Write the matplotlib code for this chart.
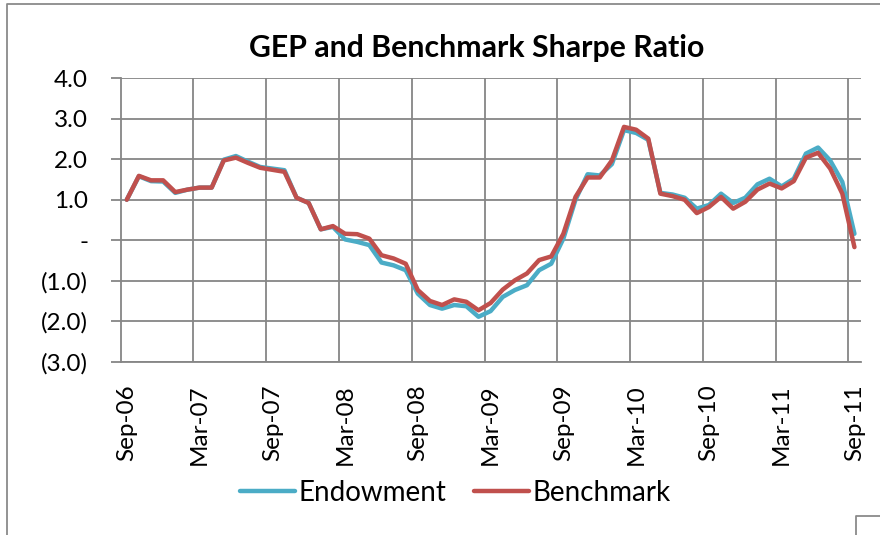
import matplotlib
matplotlib.use("Agg")
import matplotlib.pyplot as plt
from matplotlib.lines import Line2D
from matplotlib.ticker import FuncFormatter, FixedLocator
import pandas as pd

# Monthly Sharpe ratios, Sep-2006 .. Sep-2011
months = pd.date_range("2006-09-01", periods=61, freq="MS").strftime("%b-%y").tolist()

endowment = [1.00, 1.58, 1.46, 1.45, 1.17, 1.25, 1.30, 1.30, 1.99, 2.08,
             1.94, 1.81, 1.77, 1.73, 1.05, 0.92, 0.27, 0.33, 0.02, -0.04,
             -0.12, -0.55, -0.62, -0.74, -1.32, -1.60, -1.69, -1.60, -1.63, -1.89,
             -1.75, -1.40, -1.23, -1.11, -0.74, -0.58, 0.04, 1.00, 1.63, 1.60,
             1.88, 2.72, 2.65, 2.48, 1.17, 1.13, 1.05, 0.78, 0.87, 1.15,
             0.92, 1.05, 1.38, 1.52, 1.33, 1.52, 2.14, 2.29, 1.97, 1.44,
             0.16]

benchmark = [1.00, 1.59, 1.48, 1.48, 1.19, 1.25, 1.30, 1.30, 1.97, 2.04,
             1.91, 1.79, 1.74, 1.69, 1.05, 0.92, 0.27, 0.35, 0.16, 0.15,
             0.04, -0.37, -0.45, -0.58, -1.23, -1.50, -1.60, -1.46, -1.52, -1.73,
             -1.55, -1.22, -0.99, -0.82, -0.49, -0.40, 0.16, 1.07, 1.55, 1.55,
             1.97, 2.80, 2.73, 2.51, 1.15, 1.09, 1.00, 0.67, 0.82, 1.07,
             0.78, 0.95, 1.25, 1.40, 1.28, 1.46, 2.04, 2.16, 1.77, 1.15,
             -0.17]

y_ticks = [-3, -2, -1, 0, 1, 2, 3, 4]

FONT = "Lato"
GRID = "#868686"
BLUE = "#4BACC6"
RED = "#C0504D"

plt.rcParams["font.family"] = [FONT, "DejaVu Sans"]

W, H = 880, 535
fig = plt.figure(figsize=(W / 100, H / 100), dpi=100)
fig.patch.set_facecolor("white")

left, right, top, bottom = 120.7, 860.5, 78.3, 361.7
ax = fig.add_axes([left / W, 1 - bottom / H, (right - left) / W, (bottom - top) / H])

x = list(range(len(months)))
ax.plot(x, endowment, color=BLUE, lw=3.2, solid_joinstyle="round",
        solid_capstyle="round", label="Endowment", zorder=3)
ax.plot(x, benchmark, color=RED, lw=3.2, solid_joinstyle="round",
        solid_capstyle="round", label="Benchmark", zorder=4)

ax.set_xlim(-0.5, len(months) - 0.5)
ax.set_ylim(min(y_ticks), max(y_ticks))

# horizontal gridlines
ax.yaxis.set_major_locator(FixedLocator(y_ticks))
ax.grid(axis="y", color=GRID, lw=1.3, zorder=1)


def fmt(v, _pos):
    if abs(v) < 1e-9:
        return "-"
    if v < 0:
        return f"({abs(v):.1f})"
    return f"{v:.1f}"


ax.yaxis.set_major_formatter(FuncFormatter(fmt))

# vertical gridlines between category groups of six months
for k in range(1, 11):
    ax.axvline(-0.5 + 6 * k, color=GRID, lw=1.3, zorder=1)

label_pos = list(range(0, len(months), 6))
ax.set_xticks(label_pos)
ax.set_xticklabels([months[i] for i in label_pos], rotation=90, va="top", ha="center")

for s in ("top", "right"):
    ax.spines[s].set_visible(False)
for s in ("left", "bottom"):
    ax.spines[s].set_color(GRID)
    ax.spines[s].set_linewidth(1.3)

ax.tick_params(axis="y", length=7.5, width=1.3, color=GRID, pad=16,
               labelsize=17.5, labelcolor="black")
ax.tick_params(axis="x", length=0, pad=16, labelsize=17.5, labelcolor="black")

fig.text(477 / W, 1 - 48 / H, "GEP and Benchmark Sharpe Ratio", ha="center",
         va="center", fontsize=21.8, fontweight="bold")

fig.legend(loc="center", bbox_to_anchor=(455 / W, 1 - 493 / H), ncol=2,
           frameon=False, fontsize=20, handlelength=2.0, handletextpad=0.1,
           columnspacing=1.0)

# chart frame
def px_line(xs, ys):
    fig.add_artist(Line2D([v / W for v in xs], [1 - v / H for v in ys],
                          transform=fig.transFigure, color="#8a8a8a", lw=1.3))

px_line([6.5, 6.5, W], [H, 4, 4])
px_line([855.5, 855.5, W], [H, 516, 516])

fig.savefig("out.png", dpi=100)
